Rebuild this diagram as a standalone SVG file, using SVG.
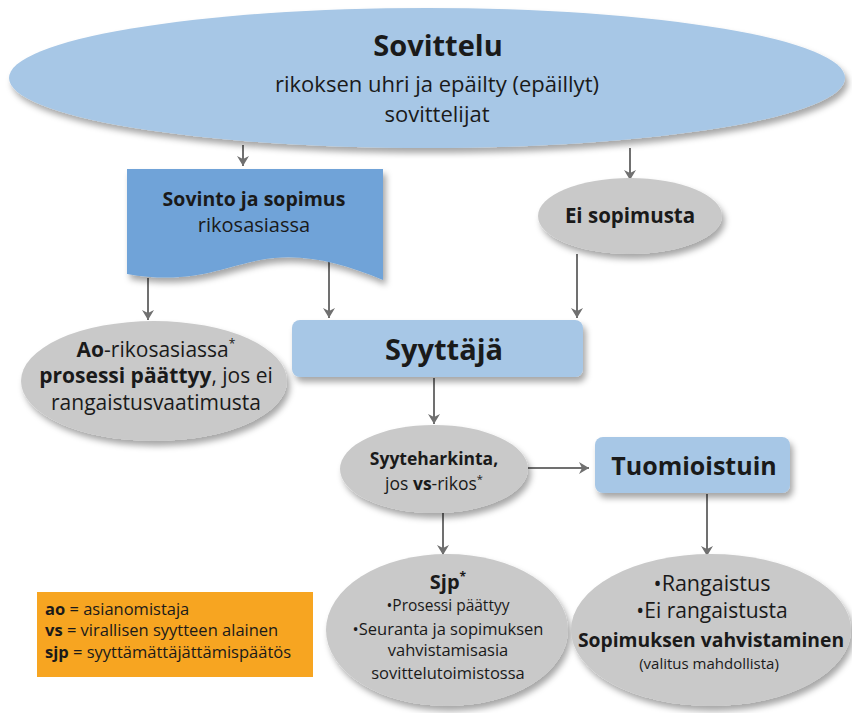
<svg xmlns="http://www.w3.org/2000/svg" width="852" height="713" viewBox="0 0 852 713">
<defs>
<filter id="sh" x="-10%" y="-10%" width="125%" height="135%">
<feDropShadow dx="3" dy="5" stdDeviation="3" flood-color="#000" flood-opacity="0.35"/>
</filter>
<marker id="ah" markerWidth="12" markerHeight="12" refX="10" refY="6" orient="auto" markerUnits="userSpaceOnUse">
<path d="M0,0 L10,6 L0,12 L3,6 Z" fill="#707070"/>
</marker>
</defs>
<style>
text{font-family:"Open Sans","Noto Sans",sans-serif;fill:#1a1a1a;text-anchor:middle}
.b{font-weight:bold}
.blue{fill:#a7c7e6}
.dblue{fill:#6fa3d8}
.grey{fill:#c9c9c9}
.conn line{stroke:#707070;stroke-width:2;marker-end:url(#ah)}
.lg{text-anchor:start;font-size:16.5px}
</style>
<rect width="852" height="713" fill="#fff"/>
<g class="conn">
<line x1="243" y1="145" x2="243" y2="166"/>
<line x1="630" y1="148" x2="630" y2="180"/>
<line x1="148" y1="278" x2="148" y2="320"/>
<line x1="329" y1="262" x2="329" y2="318"/>
<line x1="577" y1="254" x2="577" y2="318"/>
<line x1="434" y1="378" x2="434" y2="424"/>
<line x1="528" y1="468" x2="589" y2="468"/>
<line x1="443" y1="513" x2="443" y2="555"/>
<line x1="707" y1="494" x2="707" y2="556"/>
</g>
<g id="sovittelu">
<ellipse cx="427" cy="78" rx="418" ry="70" class="blue" filter="url(#sh)"/>
<text x="438" y="56" class="b" font-size="29">Sovittelu</text>
<text x="437" y="92" font-size="22">rikoksen uhri ja epäilty (epäillyt)</text>
<text x="437" y="122" font-size="22">sovittelijat</text>
</g>
<g id="sovinto">
<path d="M127,169 L383,169 L383,280 C340,262 300,252 260,260 C220,268 190,285 127,274 Z" class="dblue" filter="url(#sh)"/>
<text x="254" y="206" class="b" font-size="19.5">Sovinto ja sopimus</text>
<text x="254" y="232" font-size="20">rikosasiassa</text>
</g>
<g id="ei-sopimusta">
<ellipse cx="630" cy="216" rx="92" ry="38" class="grey" filter="url(#sh)"/>
<text x="630" y="223" class="b" font-size="20.5">Ei sopimusta</text>
</g>
<g id="ao">
<ellipse cx="154" cy="381" rx="133" ry="60" class="grey" filter="url(#sh)"/>
<text x="156" y="357" font-size="21"><tspan class="b">Ao</tspan>-rikosasiassa<tspan font-size="12" dy="-9">*</tspan></text>
<text x="156" y="383" font-size="21"><tspan class="b">prosessi päättyy</tspan>, jos ei</text>
<text x="156" y="410" font-size="21">rangaistusvaatimusta</text>
</g>
<g id="syyttaja">
<rect x="292" y="320" width="291" height="57" rx="8" class="blue" filter="url(#sh)"/>
<text x="444" y="360" class="b" font-size="29">Syyttäjä</text>
</g>
<g id="syyteharkinta">
<ellipse cx="434" cy="469" rx="94" ry="44" class="grey" filter="url(#sh)"/>
<text x="434" y="465" class="b" font-size="17.5">Syyteharkinta,</text>
<text x="434" y="490" font-size="17.5">jos <tspan class="b">vs</tspan>-rikos<tspan font-size="11" dy="-7">*</tspan></text>
</g>
<g id="tuomioistuin">
<rect x="595" y="437" width="195" height="56" rx="8" class="blue" filter="url(#sh)"/>
<text x="694" y="475" class="b" font-size="25">Tuomioistuin</text>
</g>
<g id="sjp">
<ellipse cx="447" cy="630" rx="121" ry="76" class="grey" filter="url(#sh)"/>
<text x="448" y="589" class="b" font-size="20">Sjp<tspan font-size="12" dy="-8">*</tspan></text>
<text x="448" y="611" font-size="15.5">•Prosessi päättyy</text>
<text x="448" y="635" font-size="16.5">•Seuranta ja sopimuksen</text>
<text x="448" y="656" font-size="16.5">vahvistamisasia</text>
<text x="448" y="679" font-size="16.5">sovittelutoimistossa</text>
</g>
<g id="rangaistus">
<ellipse cx="711" cy="630" rx="140" ry="76" class="grey" filter="url(#sh)"/>
<text x="712" y="591" font-size="21.5">•Rangaistus</text>
<text x="712" y="618" font-size="21">•Ei rangaistusta</text>
<text x="711" y="647" class="b" font-size="19.3">Sopimuksen vahvistaminen</text>
<text x="709" y="669" font-size="15">(valitus mahdollista)</text>
</g>
<g id="legend">
<rect x="37" y="592" width="276" height="85" fill="#f7a521"/>
<text x="45" y="615" class="lg"><tspan class="b">ao</tspan> = asianomistaja</text>
<text x="45" y="636" class="lg"><tspan class="b">vs</tspan> = virallisen syytteen alainen</text>
<text x="45" y="658" class="lg"><tspan class="b">sjp</tspan> = syyttämättäjättämispäätös</text>
</g>
</svg>
